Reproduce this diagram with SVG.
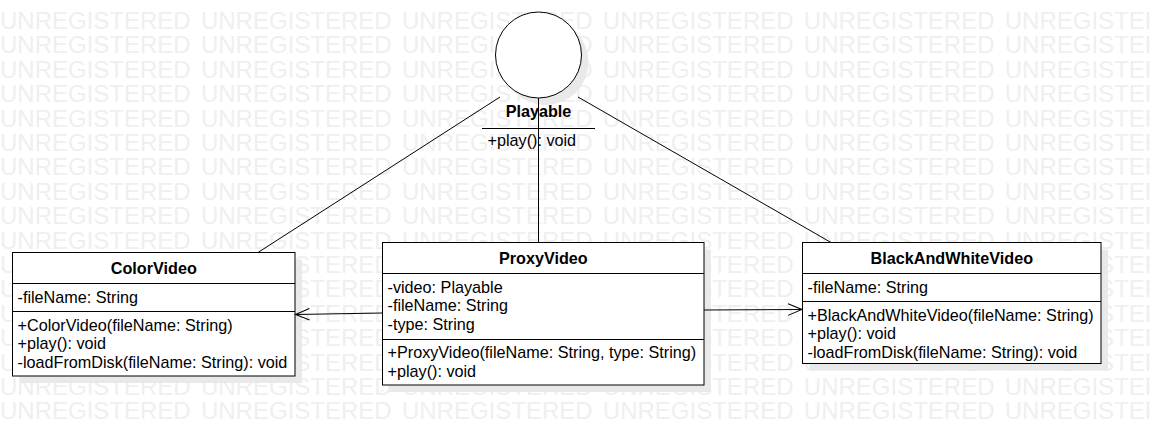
<svg xmlns="http://www.w3.org/2000/svg" width="1150" height="436" viewBox="0 0 1150 436">
<defs>
<style>
.wm { font-family: "Liberation Sans", Arial, sans-serif; font-size: 24px; fill: #efefef; word-spacing: 3.6px; }
.t { font-family: "Liberation Sans", Arial, sans-serif; font-size: 16.2px; fill: #000; }
.b { font-weight: bold; text-anchor: middle; }
.box { fill: #fff; stroke: #000; stroke-width: 1; }
.sh { fill: #e9e9e9; }
.ln { stroke: #000; stroke-width: 1; fill: none; }
</style>
<marker id="open" viewBox="0 0 16 14" refX="15" refY="7" markerWidth="16" markerHeight="14" markerUnits="userSpaceOnUse" orient="auto">
<path d="M1,1.2 L15,7 L1,12.8" fill="none" stroke="#000" stroke-width="1"/>
</marker>
</defs>
<rect x="0" y="0" width="1150" height="436" fill="#fff"/>
<g id="watermark">
<text class="wm" x="0" y="29">UNREGISTERED UNREGISTERED UNREGISTERED UNREGISTERED UNREGISTERED UNREGISTERED</text>
<text class="wm" x="0" y="53.4">UNREGISTERED UNREGISTERED UNREGISTERED UNREGISTERED UNREGISTERED UNREGISTERED</text>
<text class="wm" x="0" y="77.8">UNREGISTERED UNREGISTERED UNREGISTERED UNREGISTERED UNREGISTERED UNREGISTERED</text>
<text class="wm" x="0" y="102.2">UNREGISTERED UNREGISTERED UNREGISTERED UNREGISTERED UNREGISTERED UNREGISTERED</text>
<text class="wm" x="0" y="126.6">UNREGISTERED UNREGISTERED UNREGISTERED UNREGISTERED UNREGISTERED UNREGISTERED</text>
<text class="wm" x="0" y="151">UNREGISTERED UNREGISTERED UNREGISTERED UNREGISTERED UNREGISTERED UNREGISTERED</text>
<text class="wm" x="0" y="175.4">UNREGISTERED UNREGISTERED UNREGISTERED UNREGISTERED UNREGISTERED UNREGISTERED</text>
<text class="wm" x="0" y="199.8">UNREGISTERED UNREGISTERED UNREGISTERED UNREGISTERED UNREGISTERED UNREGISTERED</text>
<text class="wm" x="0" y="224.2">UNREGISTERED UNREGISTERED UNREGISTERED UNREGISTERED UNREGISTERED UNREGISTERED</text>
<text class="wm" x="0" y="248.6">UNREGISTERED UNREGISTERED UNREGISTERED UNREGISTERED UNREGISTERED UNREGISTERED</text>
<text class="wm" x="0" y="273">UNREGISTERED UNREGISTERED UNREGISTERED UNREGISTERED UNREGISTERED UNREGISTERED</text>
<text class="wm" x="0" y="297.4">UNREGISTERED UNREGISTERED UNREGISTERED UNREGISTERED UNREGISTERED UNREGISTERED</text>
<text class="wm" x="0" y="321.8">UNREGISTERED UNREGISTERED UNREGISTERED UNREGISTERED UNREGISTERED UNREGISTERED</text>
<text class="wm" x="0" y="346.2">UNREGISTERED UNREGISTERED UNREGISTERED UNREGISTERED UNREGISTERED UNREGISTERED</text>
<text class="wm" x="0" y="370.6">UNREGISTERED UNREGISTERED UNREGISTERED UNREGISTERED UNREGISTERED UNREGISTERED</text>
<text class="wm" x="0" y="395">UNREGISTERED UNREGISTERED UNREGISTERED UNREGISTERED UNREGISTERED UNREGISTERED</text>
<text class="wm" x="0" y="419.4">UNREGISTERED UNREGISTERED UNREGISTERED UNREGISTERED UNREGISTERED UNREGISTERED</text>
</g>
<g id="Playable">
<circle class="sh" cx="545.5" cy="62" r="43"/>
<circle class="box" cx="538.5" cy="55" r="43"/>
<text class="t b" x="538.5" y="117.3">Playable</text>
<line class="ln" x1="482" y1="128.5" x2="595" y2="128.5"/>
<text class="t" x="487.5" y="145.7">+play(): void</text>
</g>
<g id="ColorVideo">
<rect class="sh" x="19.5" y="259.5" width="282.5" height="123.5"/>
<rect class="box" x="12.5" y="252.5" width="282.5" height="123.5"/>
<line class="ln" x1="12.5" y1="283.5" x2="295" y2="283.5"/>
<line class="ln" x1="12.5" y1="311.5" x2="295" y2="311.5"/>
<text class="t b" x="153.8" y="273.8">ColorVideo</text>
<text class="t" x="17.5" y="302.8">-fileName: String</text>
<text class="t" x="17.5" y="330.6">+ColorVideo(fileName: String)</text>
<text class="t" x="17.5" y="349.1">+play(): void</text>
<text class="t" x="17.5" y="367.6">-loadFromDisk(fileName: String): void</text>
</g>
<g id="ProxyVideo">
<rect class="sh" x="389.5" y="249.5" width="321.5" height="142.5"/>
<rect class="box" x="382.5" y="242.5" width="321.5" height="142.5"/>
<line class="ln" x1="382.5" y1="273.5" x2="704" y2="273.5"/>
<line class="ln" x1="382.5" y1="339.5" x2="704" y2="339.5"/>
<text class="t b" x="543.3" y="263.6">ProxyVideo</text>
<text class="t" x="387.5" y="292.8">-video: Playable</text>
<text class="t" x="387.5" y="311.3">-fileName: String</text>
<text class="t" x="387.5" y="329.8">-type: String</text>
<text class="t" x="387.5" y="358.3">+ProxyVideo(fileName: String, type: String)</text>
<text class="t" x="387.5" y="376.8">+play(): void</text>
</g>
<g id="BlackAndWhiteVideo">
<rect class="sh" x="809.5" y="249.5" width="298.5" height="121"/>
<rect class="box" x="802.5" y="242.5" width="298.5" height="121"/>
<line class="ln" x1="802.5" y1="273.5" x2="1101" y2="273.5"/>
<line class="ln" x1="802.5" y1="301.5" x2="1101" y2="301.5"/>
<text class="t b" x="951.8" y="263.6">BlackAndWhiteVideo</text>
<text class="t" x="807.5" y="292.8">-fileName: String</text>
<text class="t" x="807.5" y="320.8">+BlackAndWhiteVideo(fileName: String)</text>
<text class="t" x="807.5" y="339.3">+play(): void</text>
<text class="t" x="807.5" y="357.8">-loadFromDisk(fileName: String): void</text>
</g>
<g id="connectors">
<line class="ln" x1="500" y1="97" x2="258" y2="252.5"/>
<line class="ln" x1="538.5" y1="98" x2="538.5" y2="242.5"/>
<line class="ln" x1="578" y1="97" x2="831" y2="242.5"/>
<line class="ln" x1="382.5" y1="313" x2="295.5" y2="314.5" marker-end="url(#open)"/>
<line class="ln" x1="704" y1="310" x2="802" y2="309.5" marker-end="url(#open)"/>
</g>
</svg>
